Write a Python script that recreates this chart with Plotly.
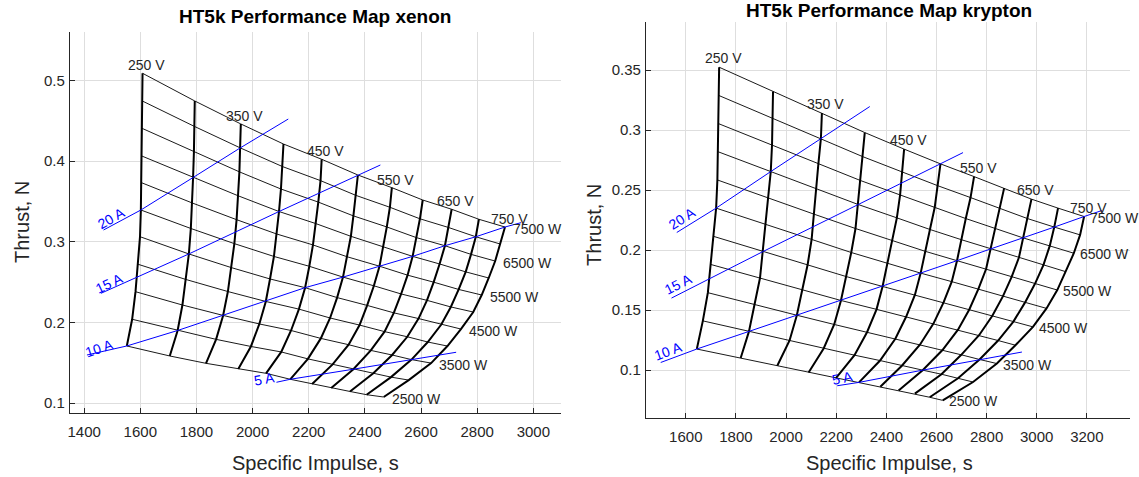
import plotly.graph_objects as go

# ---------------- data ----------------
VOLTAGES = [250, 300, 350, 400, 450, 500, 550, 600, 650, 700, 750]
POWERS = [7500, 7000, 6500, 6000, 5500, 5000, 4500, 4000, 3500, 3000, 2500]
VOLTAGE_LABELS = ["250 V", "350 V", "450 V", "550 V", "650 V", "750 V"]
POWER_LABELS = ["7500 W", "6500 W", "5500 W", "4500 W", "3500 W", "2500 W"]
CURRENT_LABELS = ["5 A", "10 A", "15 A", "20 A"]

# xenon: rows = POWERS, columns = VOLTAGES
XE_ISP = [
    [1608, 1794, 1958, 2110, 2246, 2375, 2496, 2606, 2709, 2806, 2899],
    [1607, 1793, 1956, 2106, 2242, 2368, 2489, 2596, 2698, 2795, 2882],
    [1606, 1791, 1953, 2101, 2234, 2359, 2478, 2583, 2685, 2778, 2864],
    [1605, 1788, 1948, 2094, 2224, 2350, 2465, 2570, 2666, 2759, 2841],
    [1604, 1785, 1943, 2086, 2215, 2336, 2452, 2552, 2645, 2734, 2816],
    [1602, 1780, 1935, 2076, 2202, 2322, 2432, 2529, 2621, 2706, 2786],
    [1599, 1773, 1924, 2062, 2187, 2301, 2408, 2503, 2591, 2672, 2742],
    [1592, 1762, 1912, 2047, 2165, 2276, 2381, 2470, 2551, 2624, 2694],
    [1583, 1750, 1895, 2024, 2137, 2243, 2342, 2421, 2497, 2566, 2636],
    [1571, 1733, 1870, 1994, 2102, 2197, 2285, 2359, 2430, 2493, 2556],
    [1552, 1705, 1834, 1949, 2048, 2134, 2212, 2280, 2347, 2406, 2467],
]
XE_THRUST = [
    [0.5088, 0.4745, 0.4460, 0.4211, 0.4022, 0.3827, 0.3670, 0.3517, 0.3402, 0.3278, 0.3182],
    [0.4745, 0.4429, 0.4163, 0.3932, 0.3757, 0.3574, 0.3427, 0.3284, 0.3176, 0.3061, 0.2971],
    [0.4406, 0.4113, 0.3866, 0.3653, 0.3491, 0.3320, 0.3183, 0.3051, 0.2950, 0.2843, 0.2760],
    [0.4063, 0.3796, 0.3570, 0.3374, 0.3226, 0.3067, 0.2940, 0.2818, 0.2724, 0.2626, 0.2550],
    [0.3732, 0.3480, 0.3273, 0.3095, 0.2960, 0.2814, 0.2696, 0.2585, 0.2498, 0.2408, 0.2339],
    [0.3393, 0.3164, 0.2976, 0.2817, 0.2695, 0.2561, 0.2453, 0.2352, 0.2273, 0.2191, 0.2128],
    [0.3062, 0.2848, 0.2679, 0.2538, 0.2430, 0.2307, 0.2210, 0.2118, 0.2047, 0.1973, 0.1917],
    [0.2720, 0.2532, 0.2382, 0.2259, 0.2164, 0.2054, 0.1966, 0.1885, 0.1821, 0.1756, 0.1706],
    [0.2380, 0.2215, 0.2086, 0.1980, 0.1899, 0.1801, 0.1723, 0.1652, 0.1595, 0.1538, 0.1495],
    [0.2038, 0.1899, 0.1789, 0.1701, 0.1633, 0.1547, 0.1479, 0.1419, 0.1369, 0.1321, 0.1284],
    [0.1707, 0.1583, 0.1492, 0.1422, 0.1368, 0.1294, 0.1236, 0.1186, 0.1143, 0.1103, 0.1074],
]
XE_5A_ISP = [2085, 2134, 2359, 2566, 2725]
XE_5A_THRUST = [0.1257, 0.1294, 0.1419, 0.1538, 0.1629]
XE_10A_ISP = [1410, 1552, 1733, 1895, 2047, 2187, 2322, 2452, 2570, 2685, 2795, 2899, 2956]
XE_10A_THRUST = [0.1595, 0.1707, 0.1899, 0.2086, 0.2259, 0.2430, 0.2561, 0.2696, 0.2818,
                 0.2950, 0.3061, 0.3182, 0.3236]
XE_15A_ISP = [1460, 1773, 2094, 2375, 2455]
XE_15A_THRUST = [0.2360, 0.2848, 0.3374, 0.3827, 0.3951]
XE_20A_ISP = [1469, 1602, 1788, 1956, 2127]
XE_20A_THRUST = [0.3145, 0.3393, 0.3796, 0.4163, 0.4521]

# krypton: rows = POWERS, columns = VOLTAGES
KR_ISP = [
    [1733, 1948, 2143, 2314, 2471, 2616, 2750, 2870, 2979, 3085, 3189],
    [1731, 1946, 2139, 2305, 2464, 2605, 2736, 2852, 2963, 3070, 3173],
    [1730, 1944, 2129, 2297, 2455, 2593, 2717, 2835, 2947, 3052, 3148],
    [1729, 1939, 2121, 2288, 2442, 2574, 2699, 2818, 2929, 3027, 3116],
    [1726, 1928, 2111, 2277, 2423, 2555, 2682, 2798, 2900, 2993, 3082],
    [1721, 1919, 2102, 2260, 2404, 2537, 2661, 2767, 2865, 2953, 3039],
    [1710, 1909, 2086, 2239, 2385, 2514, 2628, 2731, 2823, 2907, 2985],
    [1700, 1896, 2064, 2219, 2361, 2479, 2588, 2686, 2770, 2846, 2915],
    [1688, 1874, 2043, 2192, 2323, 2436, 2534, 2624, 2699, 2772, 2841],
    [1668, 1852, 2014, 2150, 2273, 2375, 2462, 2545, 2620, 2686, 2746],
    [1644, 1819, 1965, 2090, 2199, 2291, 2376, 2449, 2514, 2573, 2625],
]
KR_THRUST = [
    [0.3525, 0.3322, 0.3142, 0.2980, 0.2842, 0.2719, 0.2613, 0.2517, 0.2425, 0.2350, 0.2280],
    [0.3290, 0.3100, 0.2931, 0.2780, 0.2651, 0.2537, 0.2438, 0.2348, 0.2263, 0.2192, 0.2127],
    [0.3055, 0.2878, 0.2721, 0.2580, 0.2460, 0.2355, 0.2263, 0.2180, 0.2101, 0.2035, 0.1974],
    [0.2820, 0.2655, 0.2510, 0.2380, 0.2269, 0.2172, 0.2087, 0.2011, 0.1938, 0.1877, 0.1820],
    [0.2585, 0.2433, 0.2300, 0.2180, 0.2078, 0.1990, 0.1912, 0.1842, 0.1776, 0.1719, 0.1667],
    [0.2350, 0.2211, 0.2089, 0.1980, 0.1888, 0.1808, 0.1737, 0.1674, 0.1614, 0.1562, 0.1514],
    [0.2115, 0.1989, 0.1878, 0.1780, 0.1697, 0.1626, 0.1562, 0.1505, 0.1452, 0.1404, 0.1360],
    [0.1880, 0.1767, 0.1668, 0.1580, 0.1506, 0.1444, 0.1387, 0.1336, 0.1290, 0.1246, 0.1207],
    [0.1645, 0.1544, 0.1457, 0.1380, 0.1315, 0.1261, 0.1211, 0.1167, 0.1127, 0.1088, 0.1054],
    [0.1410, 0.1322, 0.1247, 0.1180, 0.1124, 0.1079, 0.1036, 0.0999, 0.0965, 0.0931, 0.0900],
    [0.1175, 0.1100, 0.1036, 0.0980, 0.0933, 0.0897, 0.0861, 0.0830, 0.0803, 0.0773, 0.0747],
]
KR_5A_ISP = [2204, 2291, 2545, 2772, 2941]
KR_5A_THRUST = [0.0869, 0.0897, 0.0999, 0.1088, 0.1150]
KR_10A_ISP = [1500, 1644, 1852, 2043, 2219, 2385, 2537, 2682, 2818, 2947, 3070, 3189, 3260]
KR_10A_THRUST = [0.1063, 0.1175, 0.1322, 0.1457, 0.1580, 0.1697, 0.1808, 0.1912, 0.2011,
                 0.2101, 0.2192, 0.2280, 0.2330]
KR_15A_ISP = [1543, 1909, 2288, 2616, 2706]
KR_15A_THRUST = [0.1600, 0.1989, 0.2380, 0.2719, 0.2813]
KR_20A_ISP = [1564, 1721, 1939, 2139, 2334]
KR_20A_THRUST = [0.2147, 0.2350, 0.2655, 0.2931, 0.3197]

# ---------------- styling / layout ----------------
W, H = 1139, 477
FONT = "Liberation Sans, Arial, Helvetica, sans-serif"
TXT = "#262626"
GRID = "#dedede"
BLUE = "#0000ff"


def px_x(p):
    return p / W


def px_y(p):
    return 1 - p / H


fig = go.Figure()

charts = [
    dict(name="xenon", xa="x", ya="y", isp=XE_ISP, thr=XE_THRUST,
         cur=[(XE_5A_ISP, XE_5A_THRUST), (XE_10A_ISP, XE_10A_THRUST),
              (XE_15A_ISP, XE_15A_THRUST), (XE_20A_ISP, XE_20A_THRUST)],
         cur_lab=[(-12, 3, -10), (13, 7, -18), (9, 10, -25), (8, 12, -29)],
         vshift=-2, pshift=(6, -2)),
    dict(name="krypton", xa="x2", ya="y2", isp=KR_ISP, thr=KR_THRUST,
         cur=[(KR_5A_ISP, KR_5A_THRUST), (KR_10A_ISP, KR_10A_THRUST),
              (KR_15A_ISP, KR_15A_THRUST), (KR_20A_ISP, KR_20A_THRUST)],
         cur_lab=[(5, 8, -12), (8, 11, -20), (7, 14, -27), (6, 14, -33)],
         vshift=-1, pshift=(4, -1)),
]

for ch in charts:
    isp, thr = ch["isp"], ch["thr"]
    nP, nV = len(POWERS), len(VOLTAGES)
    # constant-power lines (thin)
    for i in range(nP):
        fig.add_trace(go.Scatter(x=isp[i], y=thr[i], mode="lines",
                                 line=dict(color="#1a1a1a", width=1),
                                 xaxis=ch["xa"], yaxis=ch["ya"], hoverinfo="skip",
                                 showlegend=False))
    # constant-voltage lines (thick)
    for j in range(nV):
        fig.add_trace(go.Scatter(x=[isp[i][j] for i in range(nP)],
                                 y=[thr[i][j] for i in range(nP)], mode="lines",
                                 line=dict(color="black", width=2),
                                 xaxis=ch["xa"], yaxis=ch["ya"], hoverinfo="skip",
                                 showlegend=False))
    # constant-current lines (blue)
    for (cx, cy), lab, (dx, dy, ang) in zip(ch["cur"], CURRENT_LABELS, ch["cur_lab"]):
        fig.add_trace(go.Scatter(x=cx, y=cy, mode="lines",
                                 line=dict(color=BLUE, width=1),
                                 xaxis=ch["xa"], yaxis=ch["ya"], hoverinfo="skip",
                                 showlegend=False))
        fig.add_annotation(x=cx[0], y=cy[0], xref=ch["xa"], yref=ch["ya"], text=lab,
                           showarrow=False, xanchor="center", yanchor="middle",
                           xshift=dx, yshift=dy, textangle=ang,
                           font=dict(family=FONT, size=14, color=BLUE))
    # voltage labels on the top row
    for j in range(0, nV, 2):
        fig.add_annotation(x=isp[0][j], y=thr[0][j], xref=ch["xa"], yref=ch["ya"],
                           text=VOLTAGE_LABELS[j // 2], showarrow=False,
                           xanchor="center", yanchor="bottom", xshift=4, yshift=ch["vshift"],
                           font=dict(family=FONT, size=14, color=TXT))
    # power labels on the last column
    for i in range(0, nP, 2):
        fig.add_annotation(x=isp[i][nV - 1], y=thr[i][nV - 1], xref=ch["xa"], yref=ch["ya"],
                           text=POWER_LABELS[i // 2], showarrow=False,
                           xanchor="left", yanchor="middle",
                           xshift=ch["pshift"][0], yshift=ch["pshift"][1],
                           font=dict(family=FONT, size=14, color=TXT))

axis_common = dict(showgrid=True, gridcolor=GRID, gridwidth=1, zeroline=False,
                   showline=True, linecolor=TXT, linewidth=1, mirror=False,
                   ticks="inside", ticklen=5, tickcolor=TXT,
                   tickfont=dict(family=FONT, size=15, color=TXT))

fig.update_layout(
    width=W, height=H, margin=dict(l=0, r=0, t=0, b=0),
    paper_bgcolor="white", plot_bgcolor="white", showlegend=False,
    xaxis=dict(domain=[px_x(68), px_x(560)], range=[1349.2, 3098.5],
               tickvals=[1400, 1600, 1800, 2000, 2200, 2400, 2600, 2800, 3000],
               anchor="y", ticklabelstandoff=5, **axis_common),
    yaxis=dict(domain=[px_y(413), px_y(32)], range=[0.0876, 0.5600],
               tickvals=[0.1, 0.2, 0.3, 0.4, 0.5], anchor="x", ticklabelstandoff=1,
               **axis_common),
    xaxis2=dict(domain=[px_x(645), px_x(1130)], range=[1440.7, 3372.2],
                tickvals=[1600, 1800, 2000, 2200, 2400, 2600, 2800, 3000, 3200],
                anchor="y2", ticklabelstandoff=5, **axis_common),
    yaxis2=dict(domain=[px_y(418), px_y(22)], range=[0.0600, 0.3902],
                tickvals=[0.1, 0.15, 0.2, 0.25, 0.3, 0.35], anchor="x2",
                ticklabelstandoff=1, **axis_common),
)


def paper_text(text, x, y, size, bold=False, angle=0, color="black"):
    fig.add_annotation(x=px_x(x), y=px_y(y), xref="paper", yref="paper",
                       text=f"<b>{text}</b>" if bold else text, showarrow=False,
                       xanchor="center", yanchor="middle", textangle=angle,
                       font=dict(family=FONT, size=size, color=color))


paper_text("HT5k Performance Map xenon", 314, 17, 19, bold=True)
paper_text("HT5k Performance Map krypton", 889, 11, 19, bold=True)
paper_text("Specific Impulse, s", 314, 463, 20, color=TXT)
paper_text("Specific Impulse, s", 889, 463, 20, color=TXT)
paper_text("Thrust, N", 20, 222, 20, angle=-90, color=TXT)
paper_text("Thrust, N", 593, 225, 20, angle=-90, color=TXT)

# remove the page's default 8px body margin so the figure fills the window exactly
fig.write_html("out.html", config={"displayModeBar": False},
               post_script="document.body.style.margin='0px';")
